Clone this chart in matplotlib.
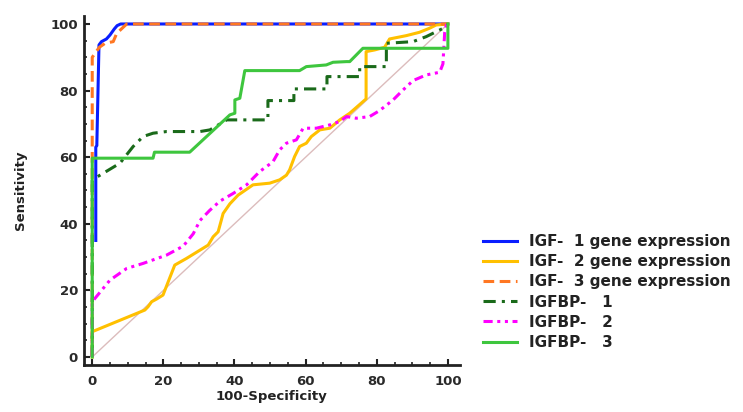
import matplotlib
matplotlib.use('Agg')
import matplotlib.pyplot as plt
from matplotlib.ticker import MultipleLocator

# ROC curves (x = 100-Specificity, y = Sensitivity)
igf1_x = [1, 1, 1.3, 1.3, 1.9, 2.6, 4, 5, 6.2, 7, 8, 100]
igf1_y = [35, 63, 63.5, 64, 93.7, 94.7, 95.5, 96.7, 98.5, 99.5, 100, 100]

igf2_x = [0, 0, 14.8, 15.7, 16.7, 18.1, 19.9, 23.2, 26.5, 32.6, 34, 35.4, 36.3, 36.8, 38.7, 41, 45.2,
          49.9, 52.7, 54.6, 55.5, 56.9, 58.3, 60.2, 61.6, 64, 66.8, 69.6, 72.4, 77, 77, 79.4, 82.2,
          83.6, 88.3, 92, 94.8, 96.7, 100]
igf2_y = [0, 7.6, 14.1, 15.1, 16.6, 17.4, 18.6, 27.6, 29.6, 33.6, 36.1, 37.6, 41.1, 43.1, 46, 48.6, 51.7,
          52.2, 53.2, 54.6, 56.2, 60.2, 63.2, 64.2, 66.2, 68.2, 68.7, 71.2, 73.2, 77.5, 91.7, 92.2, 93,
          95.5, 96.5, 97.5, 98.7, 99.7, 100]

igf3_x = [0, 0, 0.8, 2, 3.6, 5.9, 6.9, 8.7, 9.7, 100]
igf3_y = [0, 90, 91.2, 93, 94.2, 94.7, 97.2, 99, 100, 100]

bp1_x = [0, 0, 0.8, 7.8, 11.5, 14.3, 17.1, 20.9, 30.3, 33.1, 37.8, 49.4, 49.4, 56.7, 56.7, 66, 66,
         75.2, 75.2, 82.7, 82.7, 90.2, 93.9, 97.7, 99.6, 100]
bp1_y = [0, 53, 53.7, 58.2, 63.2, 66.2, 67.2, 67.7, 67.7, 68.2, 71.2, 71.2, 77, 77, 80.5, 80.5, 84.2,
         84.2, 87.2, 87.2, 94.2, 94.7, 96.2, 98.2, 99.2, 100]

bp2_x = [0, 0, 5, 9.7, 14.3, 20.9, 25.6, 28.4, 30.3, 33, 35.9, 39.6, 43.4, 47.1, 50.8, 52.7, 54.6,
         57.4, 59.3, 63, 66.8, 69.6, 71.5, 74.2, 78, 80.8, 84.6, 87.4, 90.2, 93.9, 97.7, 98.6, 99.1,
         99.6, 100]
bp2_y = [0, 16.6, 23.1, 26.6, 28.1, 30.6, 33.3, 37, 41, 44, 46.8, 49.1, 51.7, 55.7, 58.6, 62.2, 64.2,
         65.2, 68.7, 68.7, 69.7, 70.7, 72.2, 71.7, 72.2, 74, 77.2, 80.2, 83, 84.7, 85.5, 88, 97.5,
         99.7, 100]

bp3_x = [0, 0, 17.1, 17.5, 27.4, 38.7, 40.1, 40.1, 41.5, 42.9, 58.3, 60.2, 65.8, 67.7, 71.5, 72.4,
         76.1, 100, 100]
bp3_y = [0, 59.7, 59.7, 61.5, 61.5, 72.7, 73.2, 77.2, 77.7, 86, 86, 87.2, 87.7, 88.5, 88.7, 88.7,
         92.7, 92.7, 100]

labels = ['IGF-  1 gene expression', 'IGF-  2 gene expression', 'IGF-  3 gene expression',
          'IGFBP-   1', 'IGFBP-   2', 'IGFBP-   3']

plt.rcParams['font.family'] = ['DejaVu Sans']
plt.rcParams['font.weight'] = 'bold'

fig = plt.figure(figsize=(7.43, 4.12), dpi=100)
ax = fig.add_axes([0.1124, 0.1141, 0.5067, 0.8471])

ax.plot([0, 100], [0, 100], color='#dcbcbc', lw=1, zorder=1)
lw = 2.2
ax.plot(igf1_x, igf1_y, color='#0a1eff', lw=lw, label=labels[0], zorder=2)
ax.plot(igf2_x, igf2_y, color='#ffc000', lw=lw, label=labels[1], zorder=2)
ax.plot(igf3_x, igf3_y, color='#ff7722', lw=lw, ls=(0, (3.5, 1.8)), label=labels[2], zorder=3)
ax.plot(bp1_x, bp1_y, color='#1a6a1a', lw=lw, ls=(0, (4, 2, 1, 2)), label=labels[3], zorder=3)
ax.plot(bp2_x, bp2_y, color='#ff00ff', lw=lw, ls=(0, (3, 1.5, 1, 1.5, 1, 1.5)), label=labels[4], zorder=3)
ax.plot(bp3_x, bp3_y, color='#3ec63e', lw=lw, label=labels[5], zorder=4)

ax.set_xlim(-2.45, 103.4)
ax.set_ylim(-2.4, 102.4)
ax.xaxis.set_major_locator(MultipleLocator(20))
ax.yaxis.set_major_locator(MultipleLocator(20))
ax.xaxis.set_minor_locator(MultipleLocator(5))
ax.yaxis.set_minor_locator(MultipleLocator(5))
ax.tick_params(which='major', direction='in', length=4.5, width=1.5, color='#222222',
               labelsize=9.5, labelcolor='#2a2a2a')
ax.tick_params(which='minor', direction='in', length=2.2, width=1.2, color='#222222')
ax.tick_params(axis='x', which='major', pad=7)
ax.tick_params(axis='y', which='major', pad=4)
for side in ['top', 'right']:
    ax.spines[side].set_visible(False)
for side in ['left', 'bottom']:
    ax.spines[side].set_linewidth(2)
    ax.spines[side].set_color('#222222')

ax.set_xlabel('100-Specificity', fontsize=9.5, fontweight='bold', color='#222222', labelpad=2)
ax.set_ylabel('Sensitivity', fontsize=9.5, fontweight='bold', color='#222222', labelpad=17)

fig.legend(loc='upper left', bbox_to_anchor=(483 / 743, 1 - 234 / 412), frameon=False,
           borderpad=0, borderaxespad=0, handlelength=2.2, handletextpad=0.8,
           labelspacing=0.34, prop={'size': 11, 'weight': 'bold'}, labelcolor='#222222')

plt.savefig('out.png', dpi=100)
plt.close()
